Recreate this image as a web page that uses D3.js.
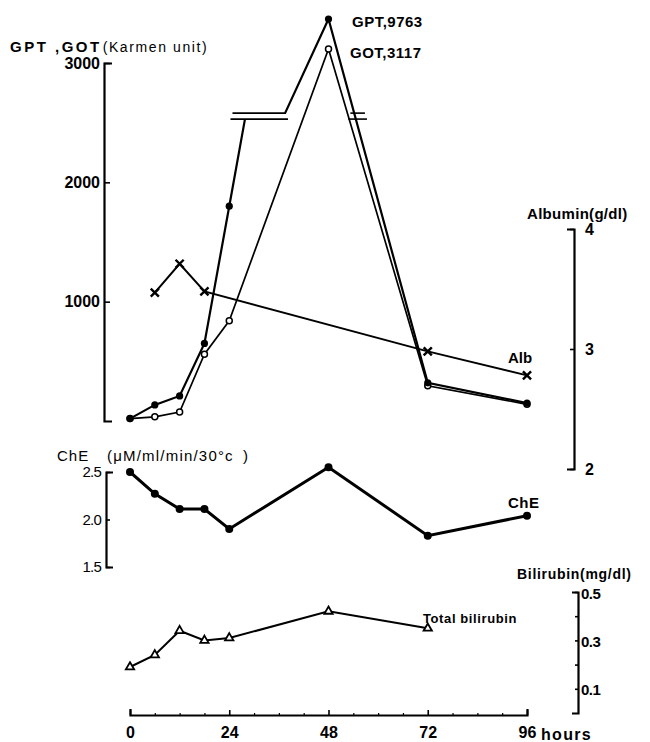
<!DOCTYPE html>
<html>
<head>
<meta charset="utf-8">
<script src="https://cdn.jsdelivr.net/npm/d3@7"></script>
<style>
  html, body { margin: 0; padding: 0; background: #fff; }
  svg { display: block; }
  text { font-family: "Liberation Sans", Arial, sans-serif; fill: #000; }
  .b { font-weight: bold; }
</style>
</head>
<body>
<svg id="chart" width="650" height="742"></svg>
<script>
// ---------- data ----------
const hours = [0, 6, 12, 18, 24, 48, 72, 96];
const gpt = [20, 135, 210, 650, 1800, 9763, 320, 150];
const got = [20, 35, 75, 560, 840, 3117, 295, 140];
const albHours = [6, 12, 18, 72, 96];
const albumin = [3.47, 3.71, 3.48, 2.98, 2.78];
const che = [2.5, 2.27, 2.11, 2.11, 1.9, 2.55, 1.83, 2.04];
const biliHours = [0, 6, 12, 18, 24, 48, 72];
const bilirubin = [0.19, 0.24, 0.34, 0.30, 0.31, 0.42, 0.35];
// GPT scale break (hours where the GPT line enters / leaves the break, values of the break lines)
const gptBreakHours = [27.8, 37.5];
const gptBreakValues = [2530, 2580];
const breakMarkSpans = [[24.3, 38.2], [52.8, 57.3]];
const xTicks = [0, 24, 48, 72, 96];
const xMinorTicks = [6, 12, 18, 30, 36, 42, 54, 60, 66, 78, 84, 90];
const enzTicks = [1000, 2000, 3000];
const albTicks = [2, 3, 4];
const cheTicks = [1.5, 2.0, 2.5];
const biliTicks = [0.1, 0.2, 0.3, 0.4, 0.5];
const biliLabelTicks = [0.1, 0.3, 0.5];

// ---------- scales ----------
const svg = d3.select("#chart");
const x = d3.scaleLinear().domain([0, 96]).range([130, 527]);
const yEnz = d3.scaleLinear().domain([0, 3000]).range([421, 63]);
const yGpt = d3.scaleLinear().domain([0, 3000, 9763]).range([421, 63, 19]);
const yAlb = d3.scaleLinear().domain([2, 4]).range([469, 229]);
const yChe = d3.scaleLinear().domain([1.5, 2.5]).range([567, 472]);
const yBili = d3.scaleLinear().domain([0, 0.5]).range([713, 592]);

function styleAxis(g, w) {
  g.selectAll("path.domain").attr("stroke", "#000").attr("stroke-width", w || 2.2).attr("fill", "none");
  g.selectAll(".tick line").attr("stroke", "#000").attr("stroke-width", 1.6);
  g.selectAll(".tick text").attr("font-family", "Liberation Sans, Arial, sans-serif")
    .attr("font-weight", "bold").attr("font-size", 15).attr("fill", "#000");
}

// ---------- axes ----------
const gEnz = svg.append("g").attr("transform", "translate(104,0)")
  .call(d3.axisLeft(yEnz).tickValues(enzTicks).tickSizeInner(-6).tickSizeOuter(-8).tickPadding(4).tickFormat(d3.format("d")));
styleAxis(gEnz);
gEnz.selectAll(".tick text").attr("font-size", 16);

const gAlb = svg.append("g").attr("transform", "translate(574,0)")
  .call(d3.axisRight(yAlb).tickValues(albTicks).tickSizeInner(-4).tickSizeOuter(-7).tickPadding(11).tickFormat(d3.format("d")));
styleAxis(gAlb);
gAlb.selectAll(".tick text").attr("font-size", 16);

const gChe = svg.append("g").attr("transform", "translate(106,0)")
  .call(d3.axisLeft(yChe).tickValues(cheTicks).tickSizeInner(-4).tickSizeOuter(-7).tickPadding(5).tickFormat(d3.format(".1f")));
styleAxis(gChe);
gChe.selectAll(".tick text").attr("font-size", 15).attr("font-weight", "normal").attr("letter-spacing", -0.8);

const gBili = svg.append("g").attr("transform", "translate(578,0)")
  .call(d3.axisRight(yBili).tickValues(biliTicks).tickSizeInner(-3).tickSizeOuter(-6).tickPadding(3)
    .tickFormat(d => biliLabelTicks.some(v => Math.abs(v - d) < 1e-9) ? d3.format(".1f")(d) : ""));
styleAxis(gBili);
gBili.selectAll(".tick text").attr("font-size", 15).attr("letter-spacing", -0.5).attr("dy", "0.4em");

const gX = svg.append("g").attr("transform", "translate(0,715)")
  .call(d3.axisBottom(x).tickValues(xTicks).tickSizeInner(-5).tickSizeOuter(-6).tickPadding(12).tickFormat(d3.format("d")));
styleAxis(gX);
gX.selectAll(".tick text").attr("font-size", 16);
const gXm = svg.append("g").attr("transform", "translate(0,715)")
  .call(d3.axisBottom(x).tickValues(xMinorTicks).tickSizeInner(-2).tickSizeOuter(0).tickFormat(""));
gXm.select("path.domain").remove();
gXm.selectAll(".tick line").attr("stroke", "#000").attr("stroke-width", 1.2);

svg.append("text").attr("class", "b").attr("x", x(96) + 14).attr("y", 740)
  .attr("font-size", 16).attr("letter-spacing", 1.3).text("hours");

// ---------- titles & labels ----------
const t1 = svg.append("text").attr("x", 10).attr("y", 52);
t1.append("tspan").attr("font-weight", "bold").attr("font-size", 15).attr("letter-spacing", 2.5).text("GPT ,GOT");
t1.append("tspan").attr("font-size", 14).attr("letter-spacing", 1.6).attr("dx", 1).text("(Karmen unit)");

svg.append("text").attr("class", "b").attr("x", 352).attr("y", 27).attr("font-size", 15).attr("letter-spacing", 0.5).text("GPT,9763");
svg.append("text").attr("class", "b").attr("x", 350).attr("y", 58).attr("font-size", 15).attr("letter-spacing", 0.5).text("GOT,3117");

svg.append("text").attr("class", "b").attr("x", 527).attr("y", 219).attr("font-size", 15).attr("letter-spacing", 0.3).text("Albumin(g/dl)");
svg.append("text").attr("class", "b").attr("x", 508).attr("y", 363).attr("font-size", 15).text("Alb");

const cheTitle = svg.append("g").attr("font-size", 15);
cheTitle.append("text").attr("x", 57).attr("y", 461).attr("letter-spacing", 1).text("ChE");
cheTitle.append("text").attr("x", 107).attr("y", 461).attr("letter-spacing", 1.2).text("(\u03BCM/ml/min/30\u00B0c");
cheTitle.append("text").attr("x", 243).attr("y", 461).text(")");
svg.append("text").attr("class", "b").attr("x", 508).attr("y", 508).attr("font-size", 15).attr("letter-spacing", 0.5).text("ChE");

svg.append("text").attr("class", "b").attr("x", 517).attr("y", 579).attr("font-size", 14).attr("letter-spacing", 0.7).text("Bilirubin(mg/dl)");
svg.append("text").attr("class", "b").attr("x", 423).attr("y", 623).attr("font-size", 13).attr("letter-spacing", 0.6).text("Total bilirubin");

// ---------- series ----------
const line = (ys) => d3.line().x(d => x(d.t)).y(d => ys(d.v));

// Albumin
const albData = albHours.map((t, i) => ({ t, v: albumin[i] }));
svg.append("path").datum(albData).attr("d", line(yAlb)).attr("fill", "none").attr("stroke", "#000").attr("stroke-width", 2);
const cross = d3.symbol().type(d3.symbolTimes || d3.symbolCross).size(45);
svg.selectAll(".albm").data(albData).enter().append("path")
  .attr("transform", d => `translate(${x(d.t)},${yAlb(d.v)})`).attr("d", cross)
  .attr("fill", "none").attr("stroke", "#000").attr("stroke-width", 2.4);

// GOT
const gotData = hours.map((t, i) => ({ t, v: got[i] }));
svg.append("path").datum(gotData).attr("d", line(yEnz)).attr("fill", "none").attr("stroke", "#000").attr("stroke-width", 1.7);

// GPT with scale break
const gptData = hours.map((t, i) => ({ t, v: gpt[i] }));
const gptLower = gptData.filter(d => d.t <= 24).concat([{ t: gptBreakHours[0], v: gptBreakValues[0] }]);
const gptUpper = [{ t: gptBreakHours[1], v: gptBreakValues[1] }].concat(gptData.filter(d => d.t >= 48));
[gptLower, gptUpper].forEach(seg => {
  svg.append("path").datum(seg).attr("d", line(yGpt)).attr("fill", "none").attr("stroke", "#000").attr("stroke-width", 2.2);
});

// break marks
breakMarkSpans.forEach(span => {
  gptBreakValues.forEach((v, j) => {
    svg.append("line").attr("x1", x(span[0]) + (j ? 2 : 0)).attr("x2", x(span[1]) - (j ? 2 : 0))
      .attr("y1", yEnz(v)).attr("y2", yEnz(v)).attr("stroke", "#000").attr("stroke-width", 1.6);
  });
});

svg.selectAll(".gotm").data(gotData).enter().append("circle")
  .attr("cx", d => x(d.t)).attr("cy", d => yEnz(d.v)).attr("r", 3)
  .attr("fill", "#fff").attr("stroke", "#000").attr("stroke-width", 1.5);
svg.selectAll(".gptm").data(gptData).enter().append("circle")
  .attr("cx", d => x(d.t)).attr("cy", d => yGpt(d.v)).attr("r", 3.6).attr("fill", "#000");

// ChE
const cheData = hours.map((t, i) => ({ t, v: che[i] }));
svg.append("path").datum(cheData).attr("d", line(yChe)).attr("fill", "none").attr("stroke", "#000").attr("stroke-width", 3);
svg.selectAll(".chem").data(cheData).enter().append("circle")
  .attr("cx", d => x(d.t)).attr("cy", d => yChe(d.v)).attr("r", 4).attr("fill", "#000");

// Bilirubin
const biliData = biliHours.map((t, i) => ({ t, v: bilirubin[i] }));
svg.append("path").datum(biliData).attr("d", line(yBili)).attr("fill", "none").attr("stroke", "#000").attr("stroke-width", 2);
const tri = d3.symbol().type(d3.symbolTriangle).size(30);
svg.selectAll(".bilim").data(biliData).enter().append("path")
  .attr("transform", d => `translate(${x(d.t)},${yBili(d.v)})`).attr("d", tri)
  .attr("fill", "#fff").attr("stroke", "#000").attr("stroke-width", 1.8);
</script>
</body>
</html>
